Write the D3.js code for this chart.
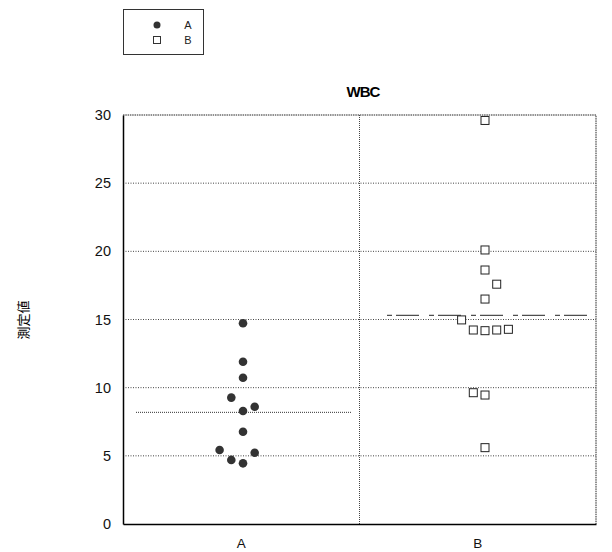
<!DOCTYPE html>
<html>
<head>
<meta charset="utf-8">
<script src="https://cdn.jsdelivr.net/npm/d3@7"></script>
<style>
  body { margin: 0; background: #fff; }
  svg { display: block; font-family: "Liberation Sans", Arial, sans-serif; }
</style>
</head>
<body>
<script>
// data
const groups = ["A", "B"];
const valuesA = [14.72, 11.9, 10.73, 9.27, 8.6, 8.29, 6.77, 5.43, 5.23, 4.7, 4.45];
const slotsA  = [0, 0, 0, -1, 1, 0, 0, -2, 1, -1, 0];   // dodge slot of each point
const valuesB = [29.6, 20.1, 18.63, 17.59, 16.5, 14.97, 14.23, 14.18, 14.23, 14.28, 9.63, 9.46, 5.6];
const slotsB  = [0, 0, 0, 1, 0, -2, -1, 0, 1, 2, -1, 0, 0];
const yTicks = [0, 5, 10, 15, 20, 25, 30];
const chartTitle = "WBC";
const yTitle = "測定値";

const width = 612, height = 552;
const plot = { left: 123, right: 596, top: 115, bottom: 524 };

const svg = d3.select("body").append("svg")
    .attr("width", width)
    .attr("height", height);

// scales
const x = d3.scaleBand().domain(groups).range([plot.left, plot.right]);
const xm = d3.scalePoint().domain(groups).range([243, 485]);   // mark centres
const y = d3.scaleLinear().domain([0, 30]).range([plot.bottom, plot.top]);
const dodge = d3.scaleLinear().domain([0, 1]).range([0, 11.7]);

// grid
svg.append("g")
  .selectAll("line")
  .data(yTicks.filter(d => d > 0 && d < 30))
  .enter().append("line")
    .attr("x1", plot.left).attr("x2", plot.right)
    .attr("y1", d => y(d)).attr("y2", d => y(d))
    .attr("stroke", "#444")
    .attr("stroke-width", 1)
    .attr("stroke-dasharray", "1,1.5");

svg.append("line")
    .attr("x1", x("B")).attr("x2", x("B"))
    .attr("y1", plot.top).attr("y2", plot.bottom)
    .attr("stroke", "#444")
    .attr("stroke-dasharray", "1,1");

// top and right frame (dotted)
svg.append("path")
    .attr("d", `M${plot.left},${plot.top}H${plot.right}V${plot.bottom}`)
    .attr("fill", "none")
    .attr("stroke", "#222")
    .attr("stroke-dasharray", "1.5,0.8");

// axes
const yAxis = svg.append("g")
    .attr("transform", `translate(${plot.left},0)`)
    .call(d3.axisLeft(y).tickValues(yTicks).tickSize(0).tickPadding(12));
yAxis.select(".domain").attr("stroke", "#000").attr("stroke-width", 1.5);
yAxis.selectAll("text").attr("font-size", 14.5).attr("fill", "#111");

const xAxis = svg.append("g")
    .attr("transform", `translate(0,${plot.bottom})`)
    .call(d3.axisBottom(x).tickSize(0).tickPadding(14));
xAxis.select(".domain").attr("stroke", "#000").attr("stroke-width", 1.5);
xAxis.selectAll("text").attr("font-size", 13.5).attr("fill", "#111");

// titles
svg.append("text")
    .attr("x", 363).attr("y", 97)
    .attr("text-anchor", "middle")
    .attr("font-size", 15)
    .attr("font-weight", "bold")
    .attr("letter-spacing", -1)
    .text(chartTitle);

svg.append("text")
    .attr("transform", "translate(22,320) rotate(-90)")
    .attr("text-anchor", "middle")
    .attr("dominant-baseline", "central")
    .attr("font-family", "Noto Sans CJK JP")
    .attr("font-size", 13)
    .text(yTitle);

// mean lines
const meanA = d3.mean(valuesA), meanB = d3.mean(valuesB);

svg.append("line")
    .attr("x1", xm("A") - 107).attr("x2", xm("A") + 109)
    .attr("y1", y(meanA)).attr("y2", y(meanA))
    .attr("stroke", "#333")
    .attr("stroke-dasharray", "1,1");

svg.append("line")
    .attr("x1", xm("B") - 98).attr("x2", xm("B") + 105)
    .attr("y1", y(meanB)).attr("y2", y(meanB))
    .attr("stroke", "#222")
    .attr("stroke-dasharray", "5,4,23,10");

// points
svg.append("g")
  .selectAll("circle")
  .data(valuesA.map((v, i) => ({ v, s: slotsA[i] })))
  .enter().append("circle")
    .attr("cx", d => xm("A") + dodge(d.s))
    .attr("cy", d => y(d.v))
    .attr("r", 4.3)
    .attr("fill", "#333");

svg.append("g")
  .selectAll("rect")
  .data(valuesB.map((v, i) => ({ v, s: slotsB[i] })))
  .enter().append("rect")
    .attr("x", d => xm("B") + dodge(d.s) - 4)
    .attr("y", d => y(d.v) - 4)
    .attr("width", 8)
    .attr("height", 8)
    .attr("fill", "#fff")
    .attr("stroke", "#222")
    .attr("stroke-width", 1);

// legend
const legend = svg.append("g");
legend.append("rect")
    .attr("x", 123.5).attr("y", 9.5)
    .attr("width", 80).attr("height", 45)
    .attr("fill", "#fff")
    .attr("stroke", "#333");

const items = legend.selectAll("g.item")
  .data(groups)
  .enter().append("g")
    .attr("class", "item")
    .attr("transform", (d, i) => `translate(157,${25 + i * 15})`);

items.filter(d => d === "A").append("circle")
    .attr("r", 3.5).attr("fill", "#333");
items.filter(d => d === "B").append("rect")
    .attr("x", -3.5).attr("y", -3.5)
    .attr("width", 7).attr("height", 7)
    .attr("fill", "#fff").attr("stroke", "#333");

items.append("text")
    .attr("x", 31)
    .attr("dy", "0.35em")
    .attr("text-anchor", "middle")
    .attr("font-size", 11)
    .attr("fill", "#222")
    .text(d => d);
</script>
</body>
</html>
